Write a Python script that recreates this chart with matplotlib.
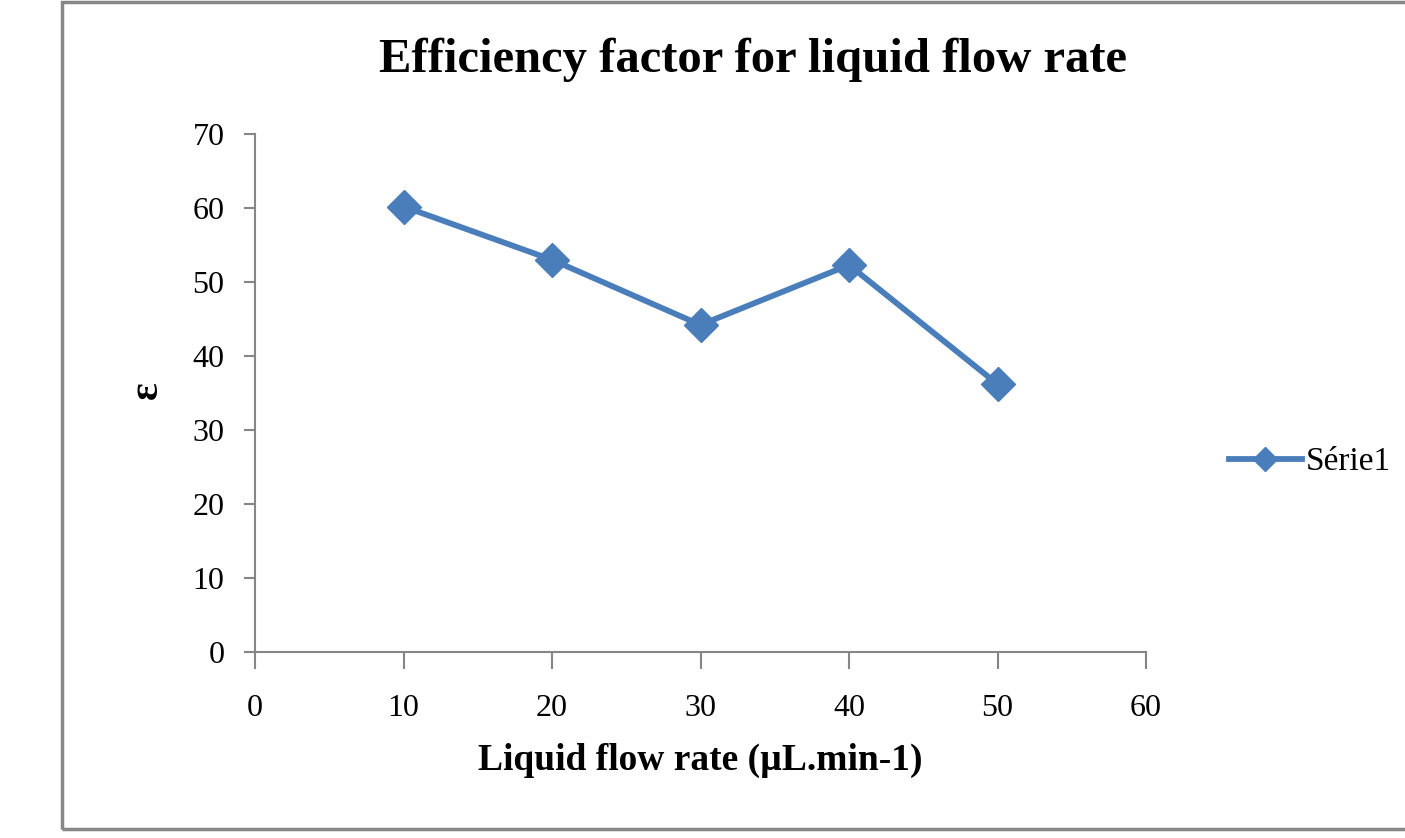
import matplotlib
matplotlib.use("Agg")
import matplotlib.pyplot as plt
from matplotlib.patches import Rectangle

flow_rate = [10, 20, 30, 40, 50]
epsilon = [60.2, 53.0, 44.2, 52.3, 36.2]
x_ticks = [0, 10, 20, 30, 40, 50, 60]
y_ticks = [0, 10, 20, 30, 40, 50, 60, 70]

plt.rcParams['font.family'] = ['Liberation Serif', 'DejaVu Serif']

W, H = 1405, 838
fig = plt.figure(figsize=(W / 100, H / 100), dpi=100)

# chart frame (grey border, right edge cut off)
fig.patches.append(Rectangle((62 / W, (H - 829) / H), 1.2, (829 - 2) / H,
                             transform=fig.transFigure, fill=False,
                             edgecolor="#878787", linewidth=2.5))

ax = fig.add_axes([255 / W, (H - 652) / H, 891 / W, 518 / H])
blue = "#4a7ebb"
line, = ax.plot(flow_rate, epsilon, color=blue, linewidth=4.2, marker="D",
                markersize=17, markerfacecolor=blue, markeredgecolor=blue,
                label="Série1", clip_on=False)

ax.set_xlim(0, 60)
ax.set_ylim(0, 70)
ax.set_xticks(x_ticks)
ax.set_yticks(y_ticks)
for s in ["top", "right"]:
    ax.spines[s].set_visible(False)
for s in ["left", "bottom"]:
    ax.spines[s].set_color("#868686")
    ax.spines[s].set_linewidth(1.5)
ax.tick_params(axis="x", length=12, width=1.5, color="#868686", labelsize=23, pad=18)
ax.tick_params(axis="y", length=8, width=1.5, color="#868686", labelsize=23, pad=14)

fig.text(700 / W, 1 - 760 / H, "Liquid flow rate (µL.min-1)",
         ha="center", va="center", fontsize=27, fontweight="bold")
fig.text(147 / W, 1 - 390 / H, "ε", rotation=90,
         ha="center", va="center", fontsize=30, fontweight="bold")
fig.text(753 / W, 1 - 60 / H, "Efficiency factor for liquid flow rate",
         ha="center", va="center", fontsize=35, fontweight="bold")

fig.legend(handles=[line], loc="center left", bbox_to_anchor=(1212 / W, 1 - 462 / H),
           frameon=False, fontsize=24, handlelength=2.2, borderpad=0,
           handletextpad=0.1, markerscale=0.7)

fig.savefig("out.png", dpi=100)
